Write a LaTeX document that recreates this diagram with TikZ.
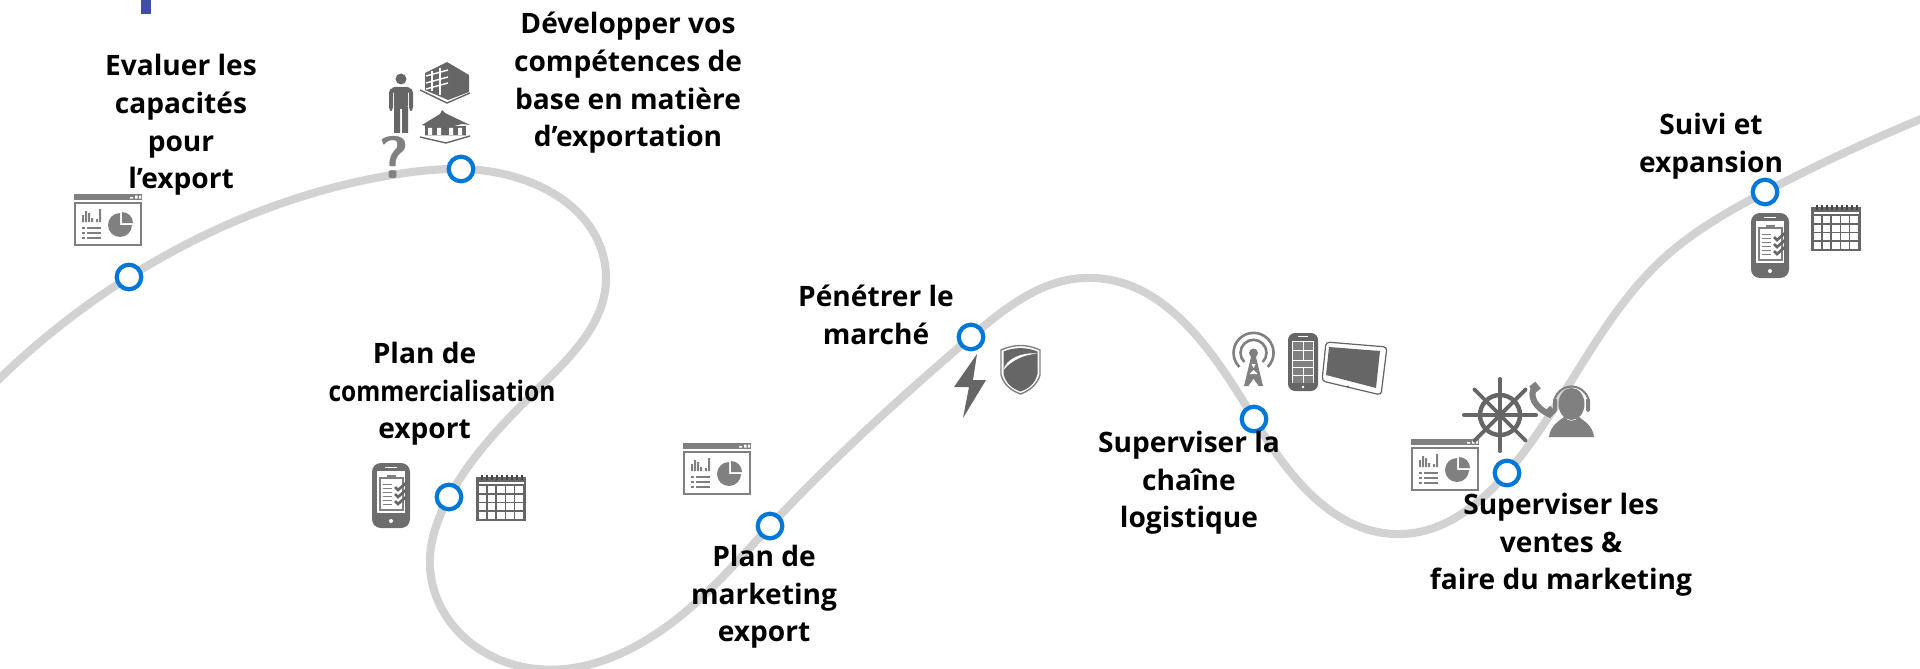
\documentclass[tikz,border=0pt]{standalone}
\usepackage{fontspec}
\newfontfamily\labelfont{Open Sans}
\usetikzlibrary{positioning,hobby}
\definecolor{roadgray}{HTML}{D2D2D2}
\definecolor{stopblue}{HTML}{0078D7}
\definecolor{icondark}{HTML}{666666}
\definecolor{iconmid}{HTML}{808080}
\definecolor{barblue}{HTML}{3F4EA0}
\tikzset{
    road/.style={line width=4.6pt, roadgray},
    stop/.style={circle, draw=stopblue, fill=white, line width=2.4pt, minimum size=14pt, inner sep=0pt},
    etape/.style={align=center, text=black, inner sep=0pt, font=\labelfont\bfseries\fontsize{16}{21.4}\selectfont},
    dashboard/.pic={
        \fill[iconmid] (0,0) rectangle (68,6);
        \fill[white] (56,3) rectangle (59,4.5) (61,1.5) rectangle (63.5,4.5) (65,1.5) rectangle (67,4.5);
        \draw[iconmid, fill=white, line width=1.3pt] (1,9) rectangle (67,51);
        \fill[iconmid] (8,21) rectangle (10,28) (11,17) rectangle (13,28) (14,19) rectangle (16,28) (17,24) rectangle (19,28) (22,25) rectangle (24,28) (25,15) rectangle (27,28);
        \foreach \y in {33,38,43}
        {
            \fill[iconmid] (8,\y) rectangle (11,\y+2);
            \fill[iconmid] (13,\y) rectangle (27,\y+2);
        }
        \fill[iconmid] (46,31) -- (46,19) arc[start angle=270, end angle=0, radius=12] -- cycle;
        \fill[iconmid] (48,29) -- (48,18) arc[start angle=270, end angle=360, radius=11] -- cycle;
    },
    checkphone/.pic={
        \fill[iconmid!85!black, rounded corners=5pt] (0,0) rectangle (38,65);
        \fill[white] (13,3.5) rectangle (25,5);
        \fill[white] (5,8) rectangle (33,50);
        \fill[iconmid] (7,14) rectangle (32,48);
        \fill[white] (9,16) rectangle (30,46);
        \fill[iconmid] (15,12) rectangle (24,16);
        \foreach \y in {21,25,29,33,37,41}
            \fill[iconmid] (11,\y) rectangle (20,\y+1.3);
        \foreach \y in {24,31,38}
            \draw[icondark, line width=1.5pt] (23,\y) -- (26,\y+3) -- (34,\y-4);
        \fill[white] (19,58) circle (2);
    },
    calendar/.pic={
        \fill[icondark] (0,2) rectangle (50,46);
        \foreach \c in {0,...,4}
            \foreach \r in {0,...,3}
                \fill[white] (2.5+\c*9.2,11+\r*8.6) rectangle ++(7.6,7);
        \fill[white] (2.5,7) rectangle (47.5,9);
        \foreach \c in {1,...,9}
            \fill[icondark!70!black] (\c*5,0) rectangle ++(1.6,5);
    },
    person/.pic={
        \fill[icondark] (12,6) circle (5.5);
        \fill[icondark, rounded corners=2pt] (2,14) rectangle (22,20) (0,16) rectangle (4,38) (20,16) rectangle (24,38) (5,14) rectangle (19,36);
        \fill[icondark] (5,34) rectangle (11,60) (13,34) rectangle (19,60);
    },
    building/.pic={
        \fill[icondark] (5,11) -- (27,0) -- (49,13) -- (49,30) -- (28,38) -- (5,28) -- cycle;
        \draw[icondark, line width=.8pt] (0,28) -- (27,41) -- (50,31);
        \foreach \y in {14,21,27}
            \draw[white, line width=.8pt] (6,\y) -- (28,\y-6);
        \draw[white, line width=.8pt] (12,9) -- (12,29) (20,6) -- (20,33);
    },
    house/.pic={
        \fill[icondark] (2,15) -- (20,4) -- (22,0) -- (25,3) -- (50,15) -- (42,14) -- (30,17) -- (6,16) -- cycle;
        \fill[icondark] (5,16) rectangle (46,26);
        \draw[icondark, line width=.8pt] (0,27) -- (26,33) -- (50,26);
        \fill[white] (4,25.5) -- (46,25.5) -- (26,30) -- cycle;
        \fill[white] (8,18) rectangle (12,25) (17,18) rectangle (21,25) (29,18) rectangle (33,25) (38,18) rectangle (42,25);
    },
    bolt/.pic={
        \fill[icondark] (23,0) -- (0,33) -- (15,33) -- (9,64) -- (32,26) -- (19,26) -- cycle;
    },
    shield/.pic={
        \draw[iconmid, fill=white, line width=.8pt] (0,5) .. controls (13,-1) and (26,-1) .. (39,5) -- (39,30) .. controls (36,40) and (28,46) .. (19.5,49) .. controls (11,46) and (3,40) .. (0,30) -- cycle;
        \fill[icondark] (2.5,6.5) .. controls (13,2) and (26,2) .. (36.5,6.5) -- (36.5,29) .. controls (34,39) and (27,44) .. (19.5,46.5) .. controls (12,44) and (5,39) .. (2.5,29) -- cycle;
        \fill[white] (2.5,25) .. controls (5,14) and (20,7) .. (36.5,8.5) .. controls (22,10) and (11,15) .. (2.5,25) -- cycle;
    },
    antenna/.pic={
        \draw[iconmid, line width=1.5pt] (7.4,36) arc[start angle=135, end angle=405, radius=20];
        \draw[iconmid, line width=1.5pt] (12.3,31) arc[start angle=135, end angle=405, radius=13];
        \fill[iconmid] (21.5,22) circle (4.5);
        \fill[iconmid] (19.5,24) -- (23.5,24) -- (31,55) -- (12,55) -- cycle;
        \fill[white] (19.5,33) -- (23.5,33) -- (21.5,37) -- cycle (21.5,39) -- (25.5,43) -- (17.5,43) -- cycle (16.5,55) -- (21.5,48) -- (26.5,55) -- cycle;
    },
    cellphone/.pic={
        \fill[icondark, rounded corners=4pt] (0,0) rectangle (30,58);
        \fill[white] (10,2.5) rectangle (20,3.5);
        \fill[white] (4,8) rectangle (26,50);
        \foreach \r/\h in {9/8,18/9,28/6,35/7,43/6.5}
        {
            \fill[iconmid] (5,\r) rectangle (14.5,\r+\h);
            \fill[iconmid] (15.5,\r) rectangle (25,\r+\h);
        }
        \fill[iconmid] (5,28) rectangle (25,34);
        \fill[white] (15,54) circle (1.4);
    },
    tablet/.pic={
        \draw[icondark, fill=white, line width=.7pt, rounded corners=2pt] (4,0) -- (65,5) -- (59,53) -- (0,39) -- cycle;
        \fill[icondark] (7,5) -- (58,9) -- (54,46) -- (4,33) -- cycle;
        \fill[icondark] (26,44.5) circle (1.2);
    },
    helm/.pic={
        \draw[icondark, line width=2.5pt] (0,0) circle (20);
        \foreach \a in {0,45,...,315}
        {
            \draw[icondark, line width=2.2pt, rotate=\a] (0,0) -- (36,0);
            \fill[icondark, rotate=\a] (36,0) circle (2);
        }
        \fill[icondark] (0,0) circle (5.5);
    },
    handset/.pic={
        \draw[iconmid, line width=3.5pt] (6,1) .. controls (-3,10) and (6,24) .. (21,30);
        \draw[iconmid, line width=5pt] (8,0) -- (2,5) (23,24) -- (17,30);
    },
    headset/.pic={
        \fill[iconmid] (22.5,18) ellipse (13 and 16);
        \draw[iconmid, line width=1.2pt] (5,18) arc[start angle=180, end angle=360, radius=17.5];
        \fill[iconmid, rounded corners=1pt] (4,12) rectangle (8,26) (37,12) rectangle (41,26);
        \fill[iconmid] (0,51) .. controls (1,40) and (10,35) .. (15,31) .. controls (19,36) and (26,36) .. (30,31) .. controls (35,35) and (44,40) .. (45,51) -- cycle;
    }
}
\begin{document}
\begin{tikzpicture}[x=0.02cm,y=-0.02cm]
    \useasboundingbox (0,0) rectangle (1920,669);
    % points on the road
    \coordinate (p1) at (129,277);
    \coordinate (p2) at (461,169);
    \coordinate (p3) at (449,497);
    \coordinate (p4) at (770,526);
    \coordinate (p5) at (971,337);
    \coordinate (p6) at (1254,419);
    \coordinate (p7) at (1507,473);
    \coordinate (p8) at (1765,192);
    \draw[road, use Hobby shortcut] (-6,384) .. (p1) .. (392,175) .. (p2) .. (606,277) .. (544,383) .. (p3) .. (430,567) .. (515,665) .. (699,600) .. (p4) .. (p5) .. (1084,278) .. (p6) .. (1402,534) .. (p7) .. (1665,257) .. (p8) .. (1926,117);
    \fill[barblue] (141,0) rectangle (151,14);
    % icons
    \pic at (74,194) {dashboard};
    \pic at (683,443) {dashboard};
    \pic at (1411,439) {dashboard};
    \pic at (372,463) {checkphone};
    \pic at (1751,213) {checkphone};
    \pic at (476,475) {calendar};
    \pic at (1811,205) {calendar};
    \pic at (389,73) {person};
    \pic at (420,62) {building};
    \pic at (420,110) {house};
    \node[text=iconmid, inner sep=0pt, font=\sffamily\bfseries\fontsize{34}{34}\selectfont] (quest) at (394,157) {?};
    \pic at (954,354) {bolt};
    \pic at (1001,345) {shield};
    \pic at (1232,331) {antenna};
    \pic at (1288,333) {cellphone};
    \pic at (1322,342) {tablet};
    \pic at (1500,415) {helm};
    \pic at (1530,385) {handset};
    \pic at (1549,386) {headset};
    % stops
    \foreach \p in {1,...,8}
        \node[stop] (stop\p) at (p\p) {};
    % labels
    \node[etape] (eval) at (181,125) {Evaluer les\\capacités\\pour\\l’export};
    \node[etape] (dev) at (628,83) {Développer vos\\compétences de\\base en matière\\d’exportation};
    \node[etape] (comm) at (442,394) {Plan de\hspace*{0.7cm}\\\scalebox{0.87}[1]{commercialisation}\\export\hspace*{0.7cm}};
    \node[etape] (mark) at (764,597) {Plan de\\marketing\\export};
    \node[etape] (pene) at (876,315) {Pénétrer le\\marché};
    \node[etape] (sup) at (1189,483) {Superviser la\\chaîne\\logistique};
    \node[etape] (vent) at (1561,545) {Superviser les\\ventes \&\\faire du marketing};
    \node[etape] (suiv) at (1711,146) {Suivi et\\expansion};
\end{tikzpicture}
\end{document}
